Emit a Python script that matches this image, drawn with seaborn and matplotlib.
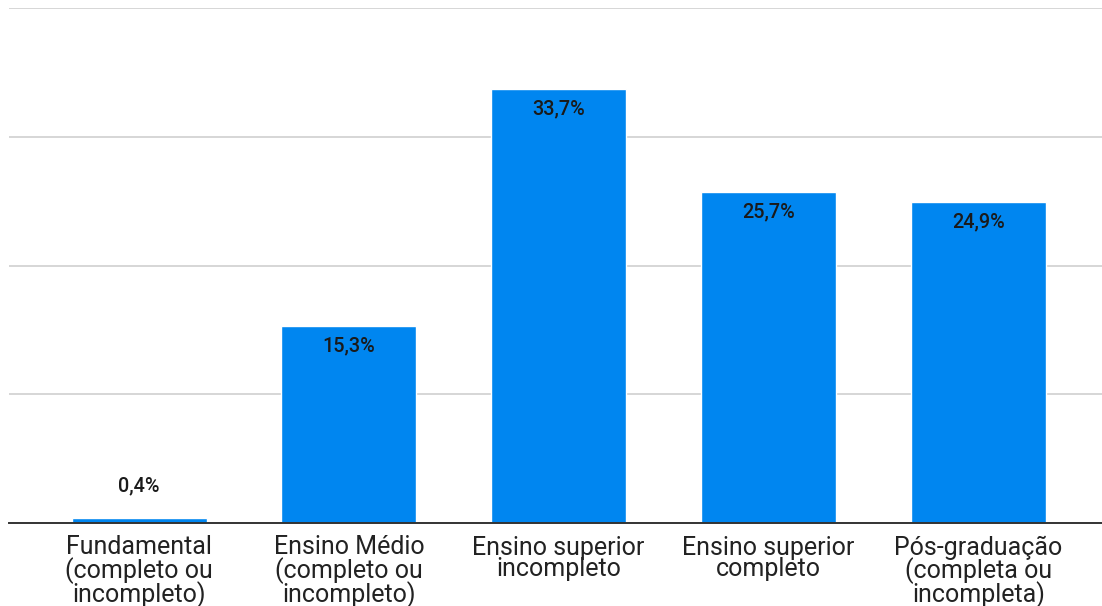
import matplotlib
matplotlib.use("Agg")
import matplotlib.pyplot as plt
import seaborn as sns
import pandas as pd

categories = [
    "Fundamental\n(completo ou\nincompleto)",
    "Ensino Médio\n(completo ou\nincompleto)",
    "Ensino superior\nincompleto",
    "Ensino superior\ncompleto",
    "Pós-graduação\n(completa ou\nincompleta)",
]
values = [0.4, 15.3, 33.7, 25.7, 24.9]
labels = ["0,4%", "15,3%", "33,7%", "25,7%", "24,9%"]

sns.set_style("white")
plt.rcParams["font.family"] = ["Roboto", "DejaVu Sans"]

df = pd.DataFrame({"nivel": categories, "pct": values})

fig = plt.figure(figsize=(11.02, 6.06), dpi=100)
ax = fig.add_axes([9 / 1102, 83 / 606, 1093 / 1102, 515 / 606])

sns.barplot(data=df, x="nivel", y="pct", color="#0086f0", saturation=1,
            width=0.644, ax=ax, zorder=3)

ax.set_ylim(0, 40)
ax.set_xlim(-0.62, 4.59)
ax.set_yticks([0, 10, 20, 30, 40])
ax.set_yticklabels([])
ax.tick_params(axis="y", length=0)
ax.yaxis.grid(True, color="#d6d6d6", linewidth=1.4, zorder=0)
ax.set_axisbelow(True)

for side in ["top", "right", "left"]:
    ax.spines[side].set_visible(False)
ax.spines["bottom"].set_color("#333333")
ax.spines["bottom"].set_linewidth(1.4)
ax.spines["bottom"].set_zorder(4)

ax.set_xlabel("")
ax.set_ylabel("")
ax.tick_params(axis="x", length=0, pad=9, labelsize=18, labelcolor="#222222")
for t in ax.get_xticklabels():
    t.set_linespacing(0.87)

for i, (v, lab) in enumerate(zip(values, labels)):
    if v > 3:
        ax.annotate(lab, (i, v), xytext=(0, -7.5), textcoords="offset points",
                    ha="center", va="top", fontsize=14.3, fontweight="medium",
                    color="#1a1a1a", zorder=5)
    else:
        ax.annotate(lab, (i, v), xytext=(0, 16), textcoords="offset points",
                    ha="center", va="bottom", fontsize=14.3, fontweight="medium",
                    color="#1a1a1a", zorder=5)

fig.savefig("out.png", dpi=100, facecolor="white")
